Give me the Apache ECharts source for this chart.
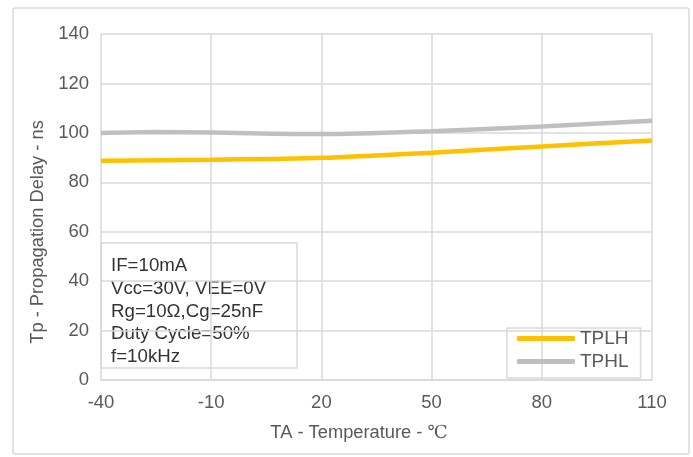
<!DOCTYPE html>
<html>
<head>
<meta charset="utf-8">
<script src="https://cdn.jsdelivr.net/npm/echarts@6/dist/echarts.min.js"></script>
<style>html,body{margin:0;padding:0;background:#fff;}#c{width:693px;height:457px;}</style>
</head>
<body>
<div id="c"></div>
<script>
// Data
const xMin = -40, xMax = 110, xStep = 30;
const tplhTemps = [-40, -10, 20, 50, 80, 110];
const tplhValues = [88.7, 89.1, 89.9, 92.0, 94.5, 96.9];
const tphlTemps = [-40, -25, -10, 20, 50, 80, 110];
const tphlValues = [99.9, 100.3, 100.1, 99.5, 100.7, 102.6, 104.9];
const yTicks = [0, 20, 40, 60, 80, 100, 120, 140];
const noteLines = ['IF=10mA', 'Vcc=30V, VEE=0V', 'Rg=10\u03A9,Cg=25nF', 'Duty Cycle=50%', 'f=10kHz'];

const FONT = '"Liberation Sans", Arial, sans-serif';
const TXT = '#595959';
const GRID = '#d9d9d9';

const chart = echarts.init(document.getElementById('c'));
const pairs = (xs, ys) => xs.map((x, i) => [x - xMin, ys[i]]);

chart.setOption({
  animation: false,
  backgroundColor: '#fff',
  grid: { left: 101, right: 41, top: 34, bottom: 77 },
  xAxis: {
    type: 'value', min: 0, max: xMax - xMin, interval: xStep,
    axisLine: { show: true, lineStyle: { color: GRID, width: 1.5 } },
    axisTick: { show: false },
    splitLine: { show: true, lineStyle: { color: GRID, width: 1.5 } },
    axisLabel: { color: TXT, fontSize: 18.5, fontFamily: FONT, margin: 13, formatter: v => String(v + xMin) }
  },
  yAxis: {
    type: 'value', min: yTicks[0], max: yTicks[yTicks.length - 1], interval: 20,
    axisLine: { show: false }, axisTick: { show: false },
    splitLine: { show: true, lineStyle: { color: GRID, width: 1.5 } },
    axisLabel: { color: TXT, fontSize: 18.5, fontFamily: FONT, margin: 12 }
  },
  legend: {
    left: 507, top: 328, orient: 'vertical',
    borderColor: GRID, borderWidth: 1.5, borderRadius: 0,
    padding: [1, 12, 7, 10], itemGap: 4,
    itemWidth: 58, itemHeight: 5, icon: 'roundRect',
    textStyle: { color: TXT, fontSize: 19, fontFamily: FONT, padding: [0, 0, 0, 0] },
    data: ['TPLH', 'TPHL']
  },
  series: [
    { name: 'TPLH', type: 'line', smooth: 0.3, showSymbol: false, symbol: 'none',
      lineStyle: { color: '#FFC000', width: 4.5 }, itemStyle: { color: '#FFC000' },
      data: pairs(tplhTemps, tplhValues), z: 3 },
    { name: 'TPHL', type: 'line', smooth: 0.3, showSymbol: false, symbol: 'none',
      lineStyle: { color: '#BFBFBF', width: 4.5 }, itemStyle: { color: '#BFBFBF' },
      data: pairs(tphlTemps, tphlValues), z: 2 }
  ],
  graphic: [
    { type: 'rect', shape: { x: 13, y: 8, width: 676, height: 446, r: 2 },
      style: { fill: 'none', stroke: GRID, lineWidth: 1.5 }, silent: true },
    { type: 'rect', shape: { x: 101, y: 243, width: 196, height: 125 },
      style: { fill: 'none', stroke: GRID, lineWidth: 1.5 }, silent: true },
    { type: 'text', x: 111, y: 255,
      style: { text: noteLines.join('\n'), fill: '#333333', font: '18.7px ' + FONT, lineHeight: 22.6 } },
    { type: 'text', x: 38, y: 232, rotation: Math.PI / 2,
      style: { text: 'Tp - Propagation Delay - ns', fill: TXT, font: '18.3px ' + FONT, align: 'center', verticalAlign: 'middle' } },
    { type: 'text', x: 359, y: 433,
      style: { text: '{a|TA - Temperature - }{b|\u2103}', align: 'center', verticalAlign: 'middle',
        rich: { a: { fill: TXT, fontSize: 18.3, fontFamily: FONT }, b: { fill: TXT, fontSize: 18, fontFamily: '"Liberation Serif", "DejaVu Serif", serif' } } } }
  ]
});
</script>
</body>
</html>
